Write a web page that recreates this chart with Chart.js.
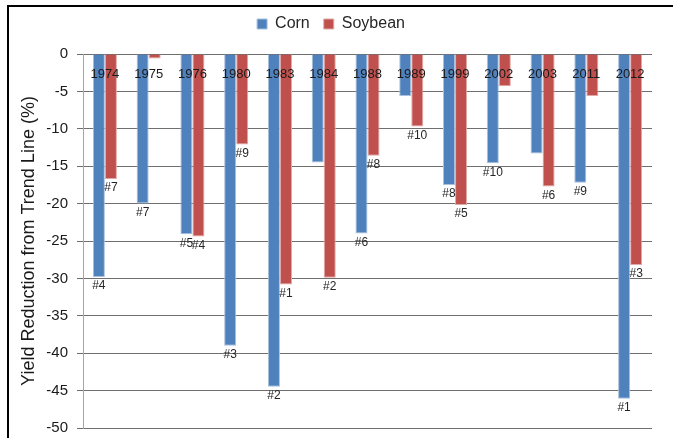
<!DOCTYPE html>
<html>
<head>
<meta charset="utf-8">
<script src="https://cdn.jsdelivr.net/npm/chart.js@4/dist/chart.umd.min.js"></script>
<style>
  html, body { margin: 0; padding: 0; background: #ffffff; }
  #wrap { position: relative; width: 673px; height: 438px; }
</style>
</head>
<body>
<div id="wrap"><canvas id="chart" width="673" height="438"></canvas></div>
<script>
// Drought years, with yield loss relative to the trend line (%)
const years = ['1974', '1975', '1976', '1980', '1983', '1984', '1988', '1989', '1999', '2002', '2003', '2011', '2012'];
const cornLoss = [-29.8, -20.0, -24.1, -39.0, -44.5, -14.5, -24.0, -5.6, -17.5, -14.6, -13.3, -17.2, -46.1];
const soyLoss  = [-16.7, -0.6, -24.4, -12.1, -30.8, -29.9, -13.6, -9.7, -20.2, -4.3, -17.7, -5.6, -28.2];
// Rank of each year among the ten worst losses for the crop
const cornRank = ['#4', '#7', '#5', '#3', '#2', '', '#6', '', '#8', '#10', '', '#9', '#1'];
const soyRank  = ['#7', '', '#4', '#9', '#1', '#2', '#8', '#10', '#5', '', '#6', '', '#3'];

const FONT = "'Liberation Sans', Arial, sans-serif";

// Outer frame (top and left edges)
const framePlugin = {
  id: 'frame',
  beforeDraw(chart) {
    const ctx = chart.ctx;
    ctx.save();
    ctx.strokeStyle = '#000';
    ctx.lineWidth = 2;
    ctx.beginPath();
    ctx.moveTo(8, 438);
    ctx.lineTo(8, 6);
    ctx.lineTo(673, 6);
    ctx.stroke();
    ctx.restore();
  }
};

// Year labels just under the zero line, and rank labels under each bar end
const labelPlugin = {
  id: 'labels',
  afterDatasetsDraw(chart) {
    const ctx = chart.ctx;
    const xs = chart.scales.x;
    const ys = chart.scales.y;
    ctx.save();
    ctx.font = '13px ' + FONT;
    ctx.fillStyle = '#1a1a1a';
    ctx.textAlign = 'center';
    ctx.textBaseline = 'middle';
    years.forEach((yr, i) => {
      ctx.fillText(yr, xs.getPixelForValue(i), ys.getPixelForValue(0) + 20);
    });

    const ranks = [cornRank, soyRank];
    ctx.font = '12px ' + FONT;
    ctx.fillStyle = '#262626';
    ctx.textBaseline = 'top';
    chart.data.datasets.forEach((ds, di) => {
      chart.getDatasetMeta(di).data.forEach((bar, i) => {
        const t = ranks[di][i];
        if (t) ctx.fillText(t, bar.x, bar.y + 3);
      });
    });
    ctx.restore();
  }
};

new Chart(document.getElementById('chart'), {
  type: 'bar',
  data: {
    labels: years,
    datasets: [
      { label: 'Corn', data: cornLoss, backgroundColor: '#4f81bd', borderColor: '#a9c0df', borderWidth: 1, categoryPercentage: 0.55, barPercentage: 1.0 },
      { label: 'Soybean', data: soyLoss, backgroundColor: '#c0504d', borderColor: '#e0a9a7', borderWidth: 1, categoryPercentage: 0.55, barPercentage: 1.0 }
    ]
  },
  options: {
    responsive: false,
    animation: false,
    devicePixelRatio: 1,
    layout: { padding: { left: 10, right: 21, top: 2, bottom: 10 } },
    plugins: {
      legend: {
        position: 'top',
        labels: { boxWidth: 10, boxHeight: 10, padding: 14, color: '#262626', font: { family: FONT, size: 16 } }
      },
      tooltip: { enabled: false }
    },
    scales: {
      x: {
        position: 'top',
        grid: { display: false, drawTicks: false },
        border: { display: false },
        ticks: { display: false },
        afterFit(s) { s.height = 12; }
      },
      y: {
        min: -50,
        max: 0,
        ticks: { stepSize: 5, padding: 9, color: '#1a1a1a', font: { family: FONT, size: 15 } },
        grid: { color: '#6f6f6f', lineWidth: 1, tickLength: 6 },
        border: { color: '#a6a6a6', width: 1 },
        title: { display: true, text: 'Yield Reduction from Trend Line (%)', color: '#1a1a1a', font: { family: FONT, size: 18 }, padding: { top: 8, bottom: 0 } },
        afterFit(s) { s.width = 73; s.paddingTop = 0; s.paddingBottom = 0; }
      }
    }
  },
  plugins: [framePlugin, labelPlugin]
});
</script>
</body>
</html>
